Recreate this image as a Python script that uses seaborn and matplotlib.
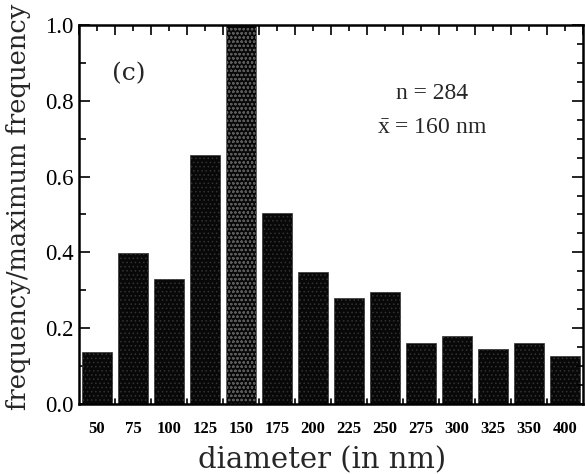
import matplotlib
matplotlib.use("Agg")
import matplotlib.pyplot as plt
import seaborn as sns
import pandas as pd
import numpy as np
from matplotlib.ticker import FixedLocator, MultipleLocator

diameters = ["50", "75", "100", "125", "150", "175", "200", "225", "250",
             "275", "300", "325", "350", "400"]
rel_freq = [0.138, 0.397, 0.329, 0.657, 1.0, 0.503, 0.347, 0.279, 0.296,
            0.160, 0.178, 0.144, 0.160, 0.127]

sns.set_theme(style="white")
plt.rcParams["font.family"] = ["Liberation Serif", "DejaVu Serif"]
plt.rcParams["mathtext.fontset"] = "custom"
plt.rcParams["mathtext.rm"] = "Liberation Serif"
plt.rcParams["mathtext.it"] = "Liberation Serif"
plt.rcParams["hatch.linewidth"] = 0.6

df = pd.DataFrame({"diameter": diameters, "freq": rel_freq})

fig = plt.figure(figsize=(5.85, 4.74), dpi=100)
ax = fig.add_axes([0.135, 0.148, 0.8616, 0.799])

sns.barplot(data=df, x="diameter", y="freq", order=diameters, color="#0a0a0a",
            width=0.83, saturation=1, ax=ax, edgecolor="#0a0a0a", linewidth=0.5)
for i, p in enumerate(ax.patches):
    if diameters[i] == "150":
        p.set_hatch("oooo")
        p.set_edgecolor("#5a5a5a")
    else:
        p.set_hatch("....")
        p.set_edgecolor("#333333")
    p.set_facecolor("#080808")

ax.set_xlim(-0.5, len(diameters) - 0.5)
ax.set_ylim(0, 1.0)

for s in ax.spines.values():
    s.set_linewidth(1.8)
    s.set_color("black")

# x ticks
ax.xaxis.set_minor_locator(FixedLocator(np.arange(-0.5, len(diameters), 1.0)))
ax.tick_params(axis="x", which="major", direction="in", length=4, width=1.2,
               top=True, bottom=True, pad=12, labelsize=12, colors="black")
ax.tick_params(axis="x", which="minor", direction="in", length=7, width=1.2,
               top=True, bottom=False, colors="black")
for lab in ax.get_xticklabels():
    lab.set_fontweight("bold")
# small ticks at bar boundaries on bottom
for xb in np.arange(0.5, len(diameters) - 0.5, 1.0):
    ax.plot([xb, xb], [0, 0.012], color="black", lw=1.2, clip_on=False, zorder=5)

# y ticks
ax.yaxis.set_minor_locator(MultipleLocator(0.1))
ax.set_yticks([0, 0.2, 0.4, 0.6, 0.8, 1.0])
ax.set_yticklabels(["0.0", "0.2", "0.4", "0.6", "0.8", "1.0"])
ax.tick_params(axis="y", which="major", direction="in", length=8, width=1.2,
               left=True, right=True, pad=4, labelsize=16.5, colors="black")
ax.tick_params(axis="y", which="minor", direction="in", length=5, width=1.2,
               left=True, right=False, colors="black")
ax2 = ax.twinx()
ax2.set_ylim(0, 1.0)
ax2.yaxis.set_major_locator(MultipleLocator(0.2))
ax2.yaxis.set_minor_locator(MultipleLocator(0.05))
ax2.tick_params(axis="y", which="major", direction="in", length=8, width=1.2,
                labelright=False, colors="black")
ax2.tick_params(axis="y", which="minor", direction="in", length=4, width=1.2,
                colors="black")
for s in ax2.spines.values():
    s.set_visible(False)

ax.set_xlabel("diameter (in nm)", fontsize=21, family="DejaVu Serif")
ax.set_ylabel("frequency/maximum frequency", fontsize=18.5, family="DejaVu Serif")
ax.xaxis.set_label_coords(0.482, -0.112)
ax.yaxis.set_label_coords(-0.095, 0.52)

ax.text(0.065, 0.873, "(c)", transform=ax.transAxes, fontsize=18, family="DejaVu Serif",
        va="center", ha="left")
ax.text(0.70, 0.82, "n = 284", transform=ax.transAxes, fontsize=17,
        va="center", ha="center")
ax.text(0.70, 0.73, r"$\bar{\mathrm{x}}$ = 160 nm", transform=ax.transAxes, fontsize=17,
        va="center", ha="center")

fig.savefig("out.png", dpi=100)
